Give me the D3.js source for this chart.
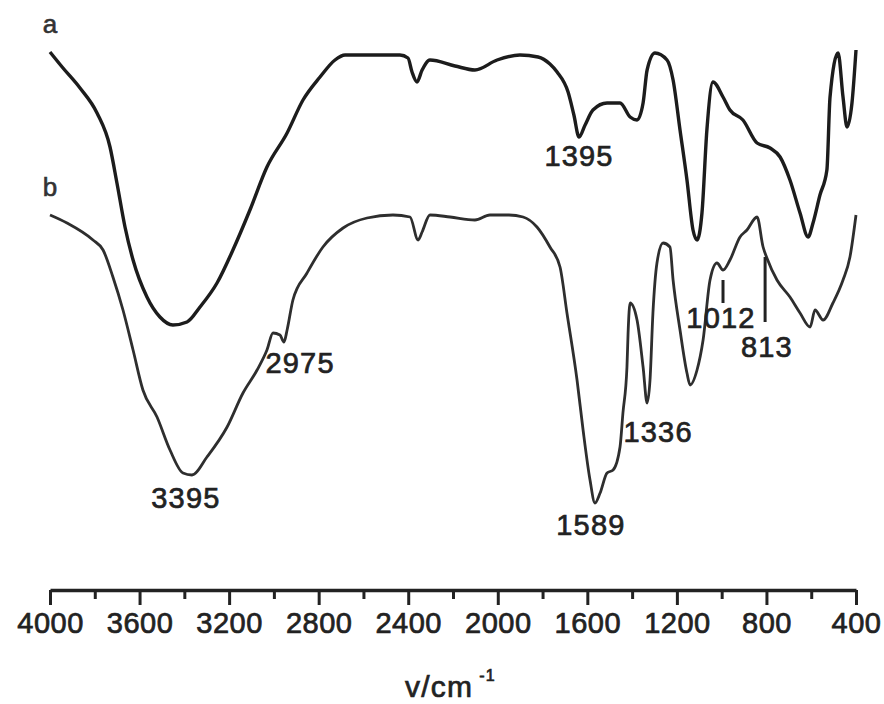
<!DOCTYPE html>
<html>
<head>
<meta charset="utf-8">
<script src="https://cdn.jsdelivr.net/npm/d3@7"></script>
<style>
  body { margin: 0; background: #fff; }
  svg { display: block; font-family: "Liberation Sans", Arial, sans-serif; }
  .axis path, .axis line { stroke: #222; }
  .axis text { font-size: 29px; fill: #222; stroke: #222; stroke-width: 0.7px; letter-spacing: 0.5px; font-family: "Liberation Sans", Arial, sans-serif; }
  text.peak, text.xlabel { stroke: #222; stroke-width: 0.7px; letter-spacing: 1.2px; }
</style>
</head>
<body>
<div id="main-chart"></div>
<script>
// spectrum a
var wavenumbersA = [4000, 3942, 3866, 3790, 3732, 3701, 3665, 3629, 3567, 3509, 3451, 3388, 3330,
  3254, 3183, 3107, 3031, 2941, 2870, 2794, 2727, 2682, 2437, 2401, 2383, 2361, 2338, 2303, 2191,
  2102, 2003, 1901, 1820, 1767, 1735, 1686, 1660, 1637, 1610, 1575, 1512, 1454, 1409, 1378, 1351,
  1333, 1298, 1244, 1217, 1186, 1155, 1128, 1110, 1088, 1066, 1039, 994, 963, 905, 842, 784, 739,
  695, 650, 614, 592, 561, 530, 516, 480, 458, 440, 418, 400];
var transmittanceA = [97.6, 94.4, 90.4, 85.4, 78.6, 71.4, 62.6, 56, 48.6, 44.6, 43, 43.6, 46.6,
  51.4, 58, 66, 74.6, 81.4, 88, 92.6, 96, 97, 97, 96.4, 93.6, 91.6, 94, 96, 94.8,
  94, 96, 97, 96.6, 95.2, 93.6, 89.6, 85, 80.6, 83, 86, 87.4, 87.4, 84.6, 84, 87.4,
  94, 97.4, 96, 92, 82, 72, 62, 60, 65.4, 82, 91.6, 88.6, 86, 84, 79.4, 78.4, 76.6,
  72, 65.4, 60.6, 63.4, 69, 74, 88.6, 97.4, 88.6, 82.6, 87.4, 98];

// spectrum b
var wavenumbersB = [4000, 3924, 3808, 3763, 3719, 3674, 3629, 3585, 3522, 3464, 3406, 3366, 3299,
  3209, 3138, 3075, 3031, 3004, 2973, 2955, 2941, 2915, 2852, 2781, 2691, 2584, 2468, 2392, 2356,
  2338, 2303, 2213, 2102, 2035, 1950, 1887, 1825, 1767, 1722, 1691, 1646, 1619, 1588, 1566, 1543,
  1512, 1485, 1454, 1441, 1423, 1418, 1409, 1378, 1351, 1333, 1320, 1307, 1289, 1262, 1231, 1217,
  1186, 1155, 1141, 1110, 1083, 1052, 1021, 994, 963, 918, 887, 842, 815, 798, 753, 695, 650, 605,
  583, 547, 503, 458, 427, 400];
var transmittanceB = [65, 63.4, 60, 58, 52.6, 46, 38, 30, 24.6, 18, 13.4, 13, 16.6,
  22.6, 29.4, 34, 38, 41.4, 41, 39.6, 42, 48, 53.4, 58.6, 62.4, 64.4, 65, 64.6, 60,
  61.6, 65, 64.6, 64, 65, 65, 64.6, 62.6, 58.6, 54.6, 45.4, 32, 22, 12, 7.4, 9.4,
  13.4, 14, 18.6, 25.4, 34.6, 41.4, 47.4, 44, 34.6, 27.4, 32, 45.4, 55.4, 59.4, 58.6, 52,
  42, 33.4, 31, 34, 40, 52, 55.4, 54, 56, 60.6, 62, 64.6, 58.6, 56.4, 52, 48.6, 45.4, 42.6,
  46, 44, 47.4, 52, 56.6, 65];

var seriesNames = ["a", "b"];

var majorTicks = [4000, 3600, 3200, 2800, 2400, 2000, 1600, 1200, 800, 400];
var minorTicks = [3800, 3400, 3000, 2600, 2200, 1800, 1400, 1000, 600];

// peak labels: text, wavenumber and transmittance of the label baseline centre
var peakTexts = ["1395", "3395", "2975", "1589", "1336", "1012", "813"];
var peakWavenumbers = [1637, 3393, 2883, 1584, 1284, 1003, 798];
var peakLevels = [74.8, 6.4, 33.4, 1, 19.6, 42.4, 36.6];

// short marker strokes pointing at bands of b
var markerWavenumbers = [994, 806];
var markerTop = [52, 56.6];
var markerBottom = [47.4, 43.6];

var width = 884, height = 704;
var svg, x, y;

function setup() {
  svg = d3
    .select("#main-chart")
    .append("svg")
    .attr("width", width)
    .attr("height", height);

  svg.append("rect").attr("width", width).attr("height", height).attr("fill", "#fff");

  x = d3.scaleLinear().domain([4000, 400]).range([50, 856]);
  y = d3.scaleLinear().domain([0, 100]).range([540, 40]);
}

function drawAxis() {
  var g = svg.append("g").attr("class", "axis").attr("transform", "translate(0,590)");

  g.call(
    d3
      .axisBottom(x)
      .tickValues(majorTicks)
      .tickSize(15)
      .tickSizeOuter(0)
      .tickPadding(7)
      .tickFormat(d3.format("d"))
  );
  g.select(".domain").attr("stroke-width", 3.5);
  g.selectAll(".tick line").attr("stroke-width", 3);

  var m = svg.append("g").attr("class", "axis").attr("transform", "translate(0,590)");
  m.call(d3.axisBottom(x).tickValues(minorTicks).tickSize(9).tickSizeOuter(0).tickFormat(""));
  m.select(".domain").remove();
  m.selectAll(".tick line").attr("stroke-width", 3);

  var label = svg
    .append("text")
    .attr("class", "xlabel")
    .attr("x", 405)
    .attr("y", 697)
    .attr("font-size", 30)
    .attr("fill", "#222")
    .text("v/cm");
  label
    .append("tspan")
    .attr("dx", 6)
    .attr("dy", -16)
    .attr("font-size", 16)
    .text("-1");
}

function drawSpectra() {
  var line = d3
    .line()
    .x(function(d) { return x(d[0]); })
    .y(function(d) { return y(d[1]); })
    .curve(d3.curveMonotoneX);

  var series = [
    d3.zip(wavenumbersA, transmittanceA),
    d3.zip(wavenumbersB, transmittanceB)
  ];
  var strokes = [3.4, 2.8];
  var colors = ["#1c1c1c", "#2e2e2e"];

  series.forEach(function(data, i) {
    svg
      .append("path")
      .datum(data)
      .attr("d", line)
      .attr("fill", "none")
      .attr("stroke", colors[i])
      .attr("stroke-width", strokes[i])
      .attr("stroke-linejoin", "round");

    svg
      .append("text")
      .attr("x", x(data[0][0]))
      .attr("y", y(data[0][1]) - 19)
      .attr("text-anchor", "middle")
      .attr("font-size", 26)
      .attr("fill", "#333")
      .attr("stroke", "#333")
      .attr("stroke-width", 0.6)
      .text(seriesNames[i]);
  });

  svg
    .selectAll("line.marker")
    .data(markerWavenumbers)
    .enter()
    .append("line")
    .attr("class", "marker")
    .attr("x1", function(d) { return x(d); })
    .attr("x2", function(d) { return x(d); })
    .attr("y1", function(d, i) { return y(markerTop[i]); })
    .attr("y2", function(d, i) { return y(markerBottom[i]); })
    .attr("stroke", "#222")
    .attr("stroke-width", 3);

  svg
    .selectAll("text.peak")
    .data(peakTexts)
    .enter()
    .append("text")
    .attr("class", "peak")
    .attr("x", function(d, i) { return x(peakWavenumbers[i]); })
    .attr("y", function(d, i) { return y(peakLevels[i]); })
    .attr("text-anchor", "middle")
    .attr("font-size", 29)
    .attr("fill", "#222")
    .text(function(d) { return d; });
}

setup();
drawAxis();
drawSpectra();
</script>
</body>
</html>
